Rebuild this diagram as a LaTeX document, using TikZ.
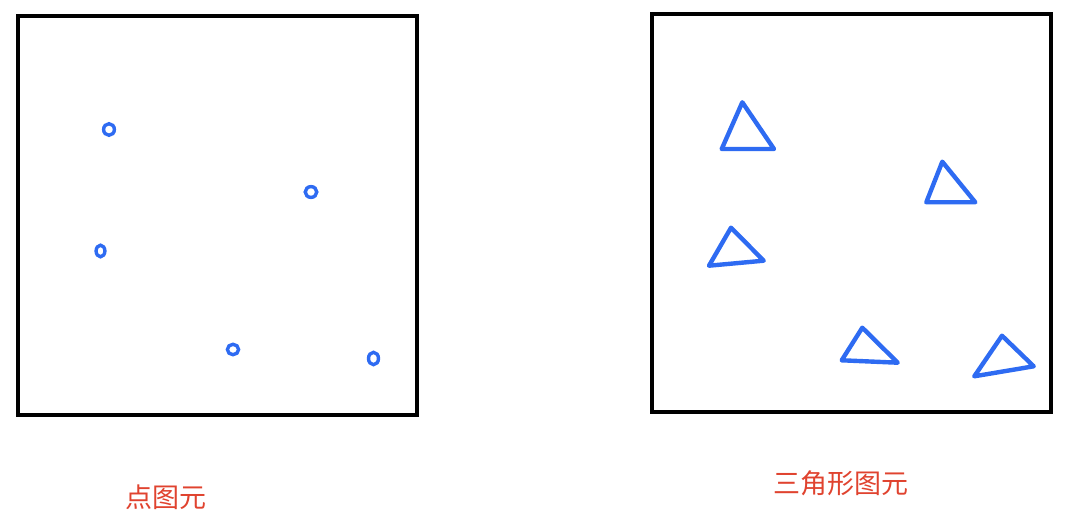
\documentclass[tikz,border=0pt]{standalone}
\usepackage{fontspec}
\newfontfamily\cjk{Noto Sans CJK SC}
\definecolor{penblue}{HTML}{2E6BF2}
\definecolor{labelred}{HTML}{E0432F}
\begin{document}
\begin{tikzpicture}[x=1pt,y=-1pt,
  frame/.style={draw=black,line width=3.2pt},
  dotmark/.style={draw=penblue,line width=3.4pt},
  tri/.style={draw=penblue,line width=4.4pt,line join=round,line cap=round},
  lbl/.style={text=labelred,font=\cjk\fontsize{27}{32}\selectfont,inner sep=0pt}]
\useasboundingbox (0,0) rectangle (1068,518);
% frames
\draw[frame] (18,16) rectangle (417,415);
\draw[frame] (652,14) rectangle (1051,412);
% points
\draw[dotmark] (109,129.5) ellipse [x radius=5.4pt, y radius=5.8pt];
\draw[dotmark] (311,192) ellipse [x radius=5.8pt, y radius=5.4pt];
\draw[dotmark] (100.5,251) ellipse [x radius=4.4pt, y radius=5.8pt];
\draw[dotmark] (233,349.5) ellipse [x radius=5.6pt, y radius=5.2pt];
\draw[dotmark] (373.5,358.5) ellipse [x radius=5pt, y radius=6.2pt];
% triangles
\draw[tri] (742.3,102.3) -- (774,149) -- (721.7,149) -- cycle;
\draw[tri] (942.3,161.7) -- (975.3,202.3) -- (926.3,202.3) -- cycle;
\draw[tri] (731,227.7) -- (763.7,260.7) -- (709,265.7) -- cycle;
\draw[tri] (862.3,327.7) -- (897.7,362.7) -- (841.7,360.3) -- cycle;
\draw[tri] (1002,335.7) -- (1033.7,366.3) -- (974.3,376.3) -- cycle;
% labels
\node[lbl] (l1) at (166,497) {点图元};
\node[lbl] (l2) at (841,483) {三角形图元};
\end{tikzpicture}
\end{document}
